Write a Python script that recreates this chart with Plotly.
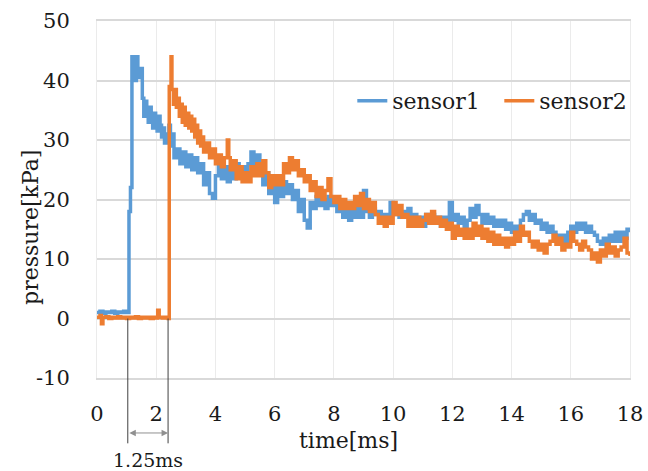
import plotly.graph_objects as go

# ---------------- data ----------------
t1 = [0.0, 0.1, 0.2, 0.3, 0.4, 0.5, 0.6, 0.7, 0.8, 0.9, 1.0,
      1.08, 1.13, 1.18, 1.25, 1.28, 1.33, 1.38, 1.43, 1.48, 1.53, 1.58, 1.63, 1.68, 1.73,
      1.78, 1.83, 1.88, 1.93, 1.98, 2.03, 2.08, 2.13, 2.18, 2.23, 2.28, 2.33, 2.38, 2.43,
      2.48, 2.55, 2.6, 2.7, 2.8, 2.9, 3.0, 3.1, 3.2, 3.3, 3.4, 3.5, 3.6, 3.7, 3.8, 3.9,
      4.0, 4.1, 4.2, 4.3, 4.4, 4.5, 4.6, 4.7, 4.8, 4.9, 5.0, 5.1, 5.2, 5.3, 5.4, 5.5,
      5.6, 5.7, 5.8, 5.9, 6.0, 6.1, 6.2, 6.3, 6.4, 6.5, 6.6, 6.7, 6.8, 6.9, 7.0, 7.1,
      7.2, 7.3, 7.4, 7.5, 7.6, 7.7, 7.8, 7.9, 8.0, 8.1, 8.2, 8.3, 8.4, 8.5, 8.6, 8.7,
      8.8, 8.9, 9.0, 9.1, 9.2, 9.3, 9.4, 9.5, 9.6, 9.7, 9.8, 9.9, 10.0, 10.1, 10.2, 10.3,
      10.4, 10.5, 10.6, 10.7, 10.8, 10.9, 11.0, 11.1, 11.2, 11.3, 11.4, 11.5, 11.6, 11.7,
      11.8, 11.9, 12.0, 12.1, 12.2, 12.3, 12.4, 12.5, 12.6, 12.7, 12.8, 12.9, 13.0, 13.1,
      13.2, 13.3, 13.4, 13.5, 13.6, 13.7, 13.8, 13.9, 14.0, 14.1, 14.2, 14.3, 14.4, 14.5,
      14.6, 14.7, 14.8, 14.9, 15.0, 15.1, 15.2, 15.3, 15.4, 15.5, 15.6, 15.7, 15.8, 15.9,
      16.0, 16.1, 16.2, 16.3, 16.4, 16.5, 16.6, 16.7, 16.8, 16.9, 17.0, 17.1, 17.2, 17.3,
      17.4, 17.5, 17.6, 17.7, 17.8, 17.9, 18.0]
sensor1 = [1.0, 1.2, 0.9, 1.1, 1.0, 1.2, 0.9, 1.1, 1.0, 1.2, 1.0,
           18, 22, 44, 43.5, 40, 44, 42, 40.5, 42, 37, 34, 36.5, 35, 33,
           35.5, 34, 32, 34.5, 33, 31.5, 34, 32.5, 30.5, 32, 29.5, 31, 29.5, 32.5,
           29, 31, 27, 28.5, 26, 28, 25.5, 27.5, 25, 27, 24.5, 26, 22.5, 24.5, 21, 20.2,
           24, 26, 23.5, 25.5, 23, 25, 23.5, 26, 24, 25.5, 23.5, 26, 28, 25.5, 27.5, 25,
           22.5, 24.5, 21, 22.5, 19.5, 22, 20.5, 23, 21, 22.5, 20, 21.5, 18, 20, 16.5, 15.2,
           19.5, 18.5, 20.5, 19, 20, 18.5, 20.5, 19, 20, 18, 19.5, 17, 18.5, 16.5, 18, 17,
           18.5, 17, 21.5, 18, 17, 18.5, 17.5, 18, 16.5, 17.5, 16.5, 19.5, 17.5, 18.5, 17, 18,
           17, 18.5, 17, 17.5, 16, 17, 15.5, 17.5, 16, 17.5, 16, 17, 15.5, 17,
           16, 19.5, 16.5, 17.5, 16, 17, 15.5, 16.5, 18.5, 17, 19, 17.5, 16, 17.5,
           16, 17, 15.5, 16.5, 15.5, 16.5, 15, 16, 14.5, 15.5, 14.5, 16.5, 17.5, 18,
           16.5, 17.5, 16, 16.5, 15, 16, 14.5, 15.5, 14.5, 14, 13, 14, 12.8, 14.5,
           15.5, 14.5, 16, 15, 16, 14.5, 15.5, 14.5, 14, 13, 12.5, 13.5, 12, 14,
           13, 14.5, 13, 14.5, 13.5, 15, 14.5]

t2 = [0.0, 0.1, 0.15, 0.2, 0.3, 0.4, 0.5, 0.6, 0.7, 0.8, 0.9, 1.0, 1.1, 1.2, 1.3, 1.4,
      1.5, 1.6, 1.7, 1.8, 1.9, 2.0, 2.05, 2.1, 2.2, 2.3, 2.4,
      2.44, 2.5, 2.53, 2.58, 2.63, 2.68, 2.73, 2.78, 2.83, 2.88, 2.93, 2.98, 3.03, 3.1,
      3.15, 3.2, 3.25, 3.3, 3.35, 3.4, 3.45, 3.5, 3.55, 3.6, 3.7, 3.8, 3.9, 4.0, 4.1,
      4.2, 4.3, 4.4, 4.45, 4.5, 4.6, 4.7, 4.8, 4.9, 5.0, 5.1, 5.2, 5.3, 5.4, 5.5, 5.6,
      5.7, 5.8, 5.9, 6.0, 6.1, 6.2, 6.3, 6.4, 6.5, 6.6, 6.7, 6.8, 6.9, 7.0, 7.1, 7.2,
      7.3, 7.4, 7.5, 7.6, 7.7, 7.8, 7.9, 8.0, 8.1, 8.2, 8.3, 8.4, 8.5, 8.6, 8.7, 8.8,
      8.9, 9.0, 9.1, 9.2, 9.3, 9.4, 9.5, 9.6, 9.7, 9.8, 9.9, 10.0, 10.1, 10.2, 10.3,
      10.4, 10.5, 10.6, 10.7, 10.8, 10.9, 11.0, 11.1, 11.2, 11.3, 11.4, 11.5, 11.6, 11.7,
      11.8, 11.9, 12.0, 12.1, 12.2, 12.3, 12.4, 12.5, 12.6, 12.7, 12.8, 12.9, 13.0, 13.1,
      13.2, 13.3, 13.4, 13.5, 13.6, 13.7, 13.8, 13.9, 14.0, 14.1, 14.2, 14.3, 14.4, 14.5,
      14.6, 14.7, 14.8, 14.9, 15.0, 15.1, 15.2, 15.3, 15.4, 15.5, 15.6, 15.7, 15.8, 15.9,
      16.0, 16.1, 16.2, 16.3, 16.4, 16.5, 16.6, 16.7, 16.8, 16.9, 17.0, 17.1, 17.2, 17.3,
      17.4, 17.5, 17.6, 17.7, 17.8, 17.9, 18.0]
sensor2 = [0.2, 0.5, -0.9, 0.2, 0.3, 0.0, 0.2, 0.1, 0.3, 0.1, 0.2, 0.0, 0.2, 0.1, 0.3, 0.0,
           0.2, 0.1, 0.2, 0.0, 0.2, 0.1, 1.4, 0.2, 0.1, 0.2, 0.0,
           39, 44, 38.5, 36, 38.5, 35.5, 37, 34, 36, 33, 35.5, 32.5, 34.5, 32,
           34, 31.5, 33.5, 30.5, 32.5, 29.5, 31.5, 29, 30.5, 28, 29.5, 27, 28.5, 26, 27.5,
           25.5, 27, 30, 27, 25, 26.5, 23.5, 25.5, 23, 24.5, 23, 25.5, 24, 26, 24, 26.5,
           24.5, 22, 24, 22.5, 24, 22.5, 26, 24.5, 27, 25, 26.5, 24, 25, 23, 24, 21.5,
           23, 20.5, 22, 20, 21.5, 23.5, 20.5, 19.5, 20.5, 18.5, 20, 18.5, 19.5, 18.5, 20.5, 19,
           21, 18.5, 20, 18, 19.5, 17.5, 16, 17, 15.5, 17, 16, 19.5, 17.5, 19, 17,
           17.5, 15.5, 17, 15.5, 17, 15.5, 16.5, 17.5, 16, 18, 16, 17, 15.5, 16.5,
           15, 16, 13.5, 15.5, 14, 15, 13.5, 15, 13.5, 16, 14, 15.5, 13.5, 15,
           13, 14.5, 12.5, 14, 12.5, 13.5, 12, 13.5, 12.5, 14.5, 13, 15.5, 14, 14.5,
           13, 12, 13, 11.5, 12.5, 11, 12.5, 13, 14, 12.5, 13.5, 11.5, 12.5, 12,
           14.5, 13, 12.5, 11.5, 13, 12, 11.5, 10, 11, 9.5, 11.5, 10.5, 12.5, 11,
           12, 10.5, 11.5, 12, 13.5, 11, 10.5]

x_ticks = [0, 2, 4, 6, 8, 10, 12, 14, 16, 18]
y_ticks = [-10, 0, 10, 20, 30, 40, 50]
y_ticktext = ["-10", "0", "10", "20", "30", "40", "50"]
x_range = [0, 18]
y_range = [-10, 50]

# arrival-time marker (delay between the two sensors)
t_arrival1 = 1.04
t_arrival2 = 2.40
delay_label = "1.25ms"

BLUE = "#5B9BD5"
ORANGE = "#ED7D31"
FONT = "DejaVu Serif"
TXT = "#1a1a1a"

fig = go.Figure()
fig.add_trace(go.Scatter(x=t1, y=sensor1, mode="lines", name="sensor1",
                         line=dict(color=BLUE, width=3.5, shape="hv")))
fig.add_trace(go.Scatter(x=t2, y=sensor2, mode="lines", name="sensor2",
                         line=dict(color=ORANGE, width=3.5, shape="hv")))

def xpaper(t):
    return (t - x_range[0]) / (x_range[1] - x_range[0])

def ypaper(v):
    return (v - y_range[0]) / (y_range[1] - y_range[0])

shapes = []
for ta in (t_arrival1, t_arrival2):
    shapes.append(dict(type="line", xref="paper", yref="paper",
                       x0=xpaper(ta), x1=xpaper(ta), y0=ypaper(0), y1=-0.183,
                       line=dict(color="#404040", width=1)))

annotations = [
    dict(x=t_arrival2, y=-0.154, xref="x", yref="paper",
         ax=t_arrival1, ay=0, axref="x", ayref="pixel",
         text="", showarrow=True, arrowside="end+start", arrowhead=2,
         arrowsize=1.3, arrowwidth=1, arrowcolor="#909090", standoff=0, startstandoff=0),
    dict(x=(t_arrival1 + t_arrival2) / 2, y=-0.229, xref="x", yref="paper",
         xanchor="center", yanchor="middle",
         text=delay_label, showarrow=False, font=dict(family=FONT, size=19, color=TXT)),
    dict(x=-0.124, y=0.423, xref="paper", yref="paper", text="pressure[kPa]",
         xanchor="center", yanchor="middle",
         textangle=-90, showarrow=False, font=dict(family=FONT, size=22, color=TXT)),
    dict(x=0.471, y=-0.174, xref="paper", yref="paper", text="time[ms]",
         xanchor="center", yanchor="middle",
         showarrow=False, font=dict(family=FONT, size=22, color=TXT)),
]

fig.update_layout(
    width=648, height=471,
    margin=dict(l=97, r=18, t=21, b=93, autoexpand=False),
    paper_bgcolor="white", plot_bgcolor="white",
    font=dict(family=FONT, size=21, color=TXT),
    showlegend=True,
    legend=dict(orientation="h", x=0.479, y=0.776, xanchor="left", yanchor="middle",
                bgcolor="rgba(0,0,0,0)", font=dict(family=FONT, size=22, color=TXT),
                itemwidth=30, tracegroupgap=0, entrywidth=102),
    shapes=shapes,
    annotations=annotations,
    xaxis=dict(range=x_range, tickvals=x_ticks, showgrid=True, gridcolor="#ebebeb", gridwidth=1,
               zeroline=False, showline=True, mirror=True, linecolor="#d9d9d9", linewidth=2,
               ticks="", ticklabelstandoff=16, automargin=False,
               tickfont=dict(family=FONT, size=21, color=TXT)),
    yaxis=dict(range=y_range, tickvals=y_ticks, ticktext=y_ticktext, showgrid=True,
               gridcolor="#d9d9d9", gridwidth=2,
               zeroline=False, showline=True, mirror=True, linecolor="#ebebeb", linewidth=1,
               ticks="", ticklabelstandoff=22, automargin=False,
               tickfont=dict(family=FONT, size=21, color=TXT)),
)

fig.write_html("out.html")
